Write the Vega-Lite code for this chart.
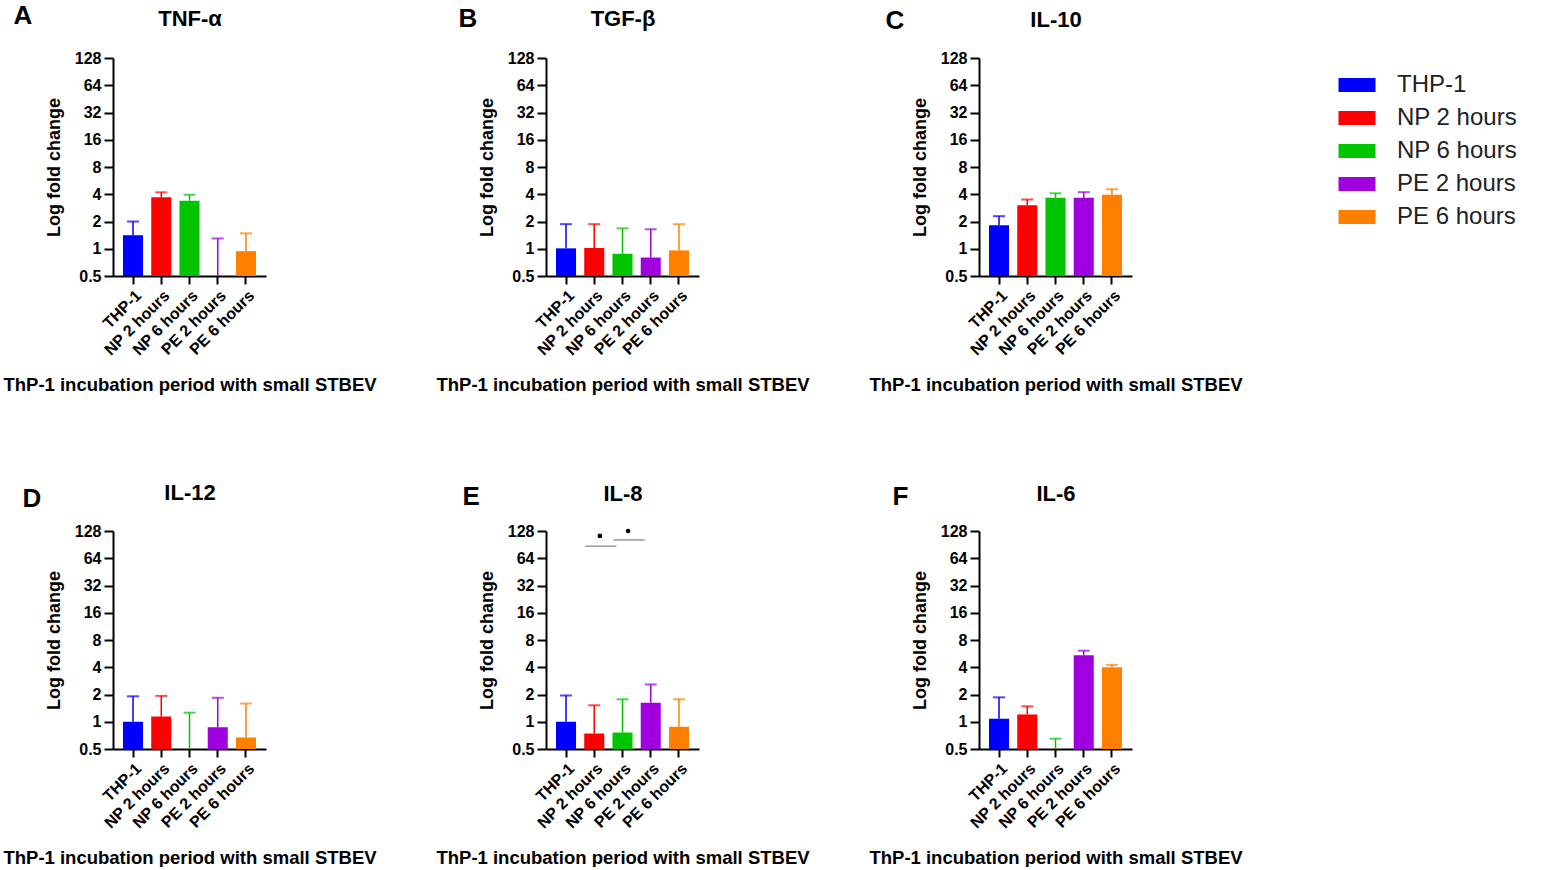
{
  "$schema": "https://vega.github.io/schema/vega-lite/v6.json",
  "padding": {"left": 2, "top": 2, "right": 0, "bottom": 0},
  "background": "white",
  "config": {
    "font": "Liberation Sans",
    "view": {"stroke": null},
    "axis": {"grid": false}
  },
  "datasets": {
    "cyt": [
      {"panel": "A", "group": "THP-1", "value": 1.41, "err": 2.0},
      {"panel": "A", "group": "NP 2 hours", "value": 3.7, "err": 4.2},
      {"panel": "A", "group": "NP 6 hours", "value": 3.4, "err": 3.95},
      {"panel": "A", "group": "PE 2 hours", "value": 0.45, "err": 1.3},
      {"panel": "A", "group": "PE 6 hours", "value": 0.94, "err": 1.48},
      {"panel": "B", "group": "THP-1", "value": 1.01, "err": 1.87},
      {"panel": "B", "group": "NP 2 hours", "value": 1.02, "err": 1.87},
      {"panel": "B", "group": "NP 6 hours", "value": 0.88, "err": 1.68},
      {"panel": "B", "group": "PE 2 hours", "value": 0.8, "err": 1.64},
      {"panel": "B", "group": "PE 6 hours", "value": 0.96, "err": 1.87},
      {"panel": "C", "group": "THP-1", "value": 1.82, "err": 2.29},
      {"panel": "C", "group": "NP 2 hours", "value": 3.03, "err": 3.5},
      {"panel": "C", "group": "NP 6 hours", "value": 3.65, "err": 4.1},
      {"panel": "C", "group": "PE 2 hours", "value": 3.65, "err": 4.22},
      {"panel": "C", "group": "PE 6 hours", "value": 3.94, "err": 4.55},
      {"panel": "D", "group": "THP-1", "value": 1.0, "err": 1.91},
      {"panel": "D", "group": "NP 2 hours", "value": 1.14, "err": 1.93},
      {"panel": "D", "group": "NP 6 hours", "value": 0.45, "err": 1.26},
      {"panel": "D", "group": "PE 2 hours", "value": 0.87, "err": 1.84},
      {"panel": "D", "group": "PE 6 hours", "value": 0.67, "err": 1.59},
      {"panel": "E", "group": "THP-1", "value": 1.0, "err": 1.95},
      {"panel": "E", "group": "NP 2 hours", "value": 0.74, "err": 1.52},
      {"panel": "E", "group": "NP 6 hours", "value": 0.76, "err": 1.77},
      {"panel": "E", "group": "PE 2 hours", "value": 1.62, "err": 2.58},
      {"panel": "E", "group": "PE 6 hours", "value": 0.88, "err": 1.77},
      {"panel": "F", "group": "THP-1", "value": 1.08, "err": 1.86},
      {"panel": "F", "group": "NP 2 hours", "value": 1.2, "err": 1.48},
      {"panel": "F", "group": "NP 6 hours", "value": 0.45, "err": 0.65},
      {"panel": "F", "group": "PE 2 hours", "value": 5.43, "err": 6.1},
      {"panel": "F", "group": "PE 6 hours", "value": 4.01, "err": 4.25}
    ],
    "sig": [
      {"from": "NP 2 hours", "to": "NP 6 hours", "y": 87},
      {"from": "NP 6 hours", "to": "PE 2 hours", "y": 102}
    ],
    "dots": [
      {"group": "NP 2 hours", "y": 113},
      {"group": "NP 6 hours", "y": 128}
    ]
  },
  "columns": 3,
  "bounds": "flush",
  "spacing": {"row": 255, "column": 280},
  "concat": [
    {
      "width": 153, "height": 218,
      "data": {"name": "cyt"},
      "transform": [{"filter": "datum.panel === 'A'"}],
      "resolve": {"axis": {"x": "independent", "y": "independent"}},
      "layer": [
        {
          "mark": {"type": "bar"},
          "encoding": {
            "x": {"field": "group", "type": "nominal", "sort": null,
              "scale": {"domain": ["THP-1", "NP 2 hours", "NP 6 hours", "PE 2 hours", "PE 6 hours"], "paddingInner": 0.29, "paddingOuter": 0.354},
              "axis": {"orient": "bottom", "title": "ThP-1 incubation period with small STBEV", "titleFontSize": 18.5, "titleFontWeight": "bold", "titleColor": "black", "titleBaseline": "alphabetic", "titleY": 114, "labelAngle": -45, "labelFontSize": 16, "labelFontWeight": "bold", "labelColor": "black", "labelPadding": 3, "domainColor": "black", "domainWidth": 2, "tickColor": "black", "tickWidth": 2, "tickSize": 8}},
            "y": {"field": "value", "type": "quantitative",
              "scale": {"type": "log", "domain": [0.5, 128], "nice": false, "clamp": true},
              "axis": {"orient": "left", "title": "Log fold change", "values": [0.5, 1, 2, 4, 8, 16, 32, 64, 128], "format": "~g", "titleFontSize": 18, "titleFontWeight": "bold", "titleColor": "black", "titlePadding": 11, "labelFontSize": 16, "labelFontWeight": "bold", "labelColor": "black", "labelPadding": 3, "domainColor": "black", "domainWidth": 2, "tickColor": "black", "tickWidth": 2, "tickSize": 9}},
            "y2": {"datum": 0.5},
            "color": {"field": "group", "type": "nominal",
              "scale": {"domain": ["THP-1", "NP 2 hours", "NP 6 hours", "PE 2 hours", "PE 6 hours"], "range": ["#0000ff", "#ff0000", "#00c400", "#a000e0", "#ff8000"]},
              "legend": {"orient": "none", "legendX": 1232, "legendY": 15, "title": null, "symbolType": "M-2,-0.76H2V0.76H-2Z", "symbolSize": 342, "symbolStrokeWidth": 0, "labelFontSize": 24, "labelColor": "#222222", "labelOffset": 28, "rowPadding": 9}}
          }
        },
        {
          "mark": {"type": "rule", "strokeWidth": 1.5},
          "encoding": {
            "x": {"field": "group", "type": "nominal", "axis": {"orient": "top", "title": "TNF-α", "domain": false, "ticks": false, "labels": false, "titleFontSize": 22, "titleFontWeight": "bold", "titleColor": "black", "titleBaseline": "alphabetic", "titleY": -33}},
            "y": {"field": "value", "type": "quantitative", "axis": {"orient": "right", "title": "A", "domain": false, "ticks": false, "labels": false, "titleAngle": 0, "titleAlign": "left", "titleBaseline": "alphabetic", "titleX": -253, "titleY": -35, "titleFontSize": 26, "titleFontWeight": "bold", "titleColor": "black"}},
            "y2": {"field": "err"},
            "color": {"field": "group", "type": "nominal", "legend": null}
          }
        },
        {
          "mark": {"type": "tick", "size": 12, "thickness": 2},
          "encoding": {
            "x": {"field": "group", "type": "nominal", "axis": null},
            "y": {"field": "err", "type": "quantitative", "axis": null},
            "color": {"field": "group", "type": "nominal", "legend": null}
          }
        }
      ]
    },
    {
      "width": 153, "height": 218,
      "data": {"name": "cyt"},
      "transform": [{"filter": "datum.panel === 'B'"}],
      "resolve": {"axis": {"x": "independent", "y": "independent"}},
      "layer": [
        {
          "mark": {"type": "bar"},
          "encoding": {
            "x": {"field": "group", "type": "nominal", "sort": null,
              "scale": {"domain": ["THP-1", "NP 2 hours", "NP 6 hours", "PE 2 hours", "PE 6 hours"], "paddingInner": 0.29, "paddingOuter": 0.354},
              "axis": {"orient": "bottom", "title": "ThP-1 incubation period with small STBEV", "titleFontSize": 18.5, "titleFontWeight": "bold", "titleColor": "black", "titleBaseline": "alphabetic", "titleY": 114, "labelAngle": -45, "labelFontSize": 16, "labelFontWeight": "bold", "labelColor": "black", "labelPadding": 3, "domainColor": "black", "domainWidth": 2, "tickColor": "black", "tickWidth": 2, "tickSize": 8}},
            "y": {"field": "value", "type": "quantitative",
              "scale": {"type": "log", "domain": [0.5, 128], "nice": false, "clamp": true},
              "axis": {"orient": "left", "title": "Log fold change", "values": [0.5, 1, 2, 4, 8, 16, 32, 64, 128], "format": "~g", "titleFontSize": 18, "titleFontWeight": "bold", "titleColor": "black", "titlePadding": 11, "labelFontSize": 16, "labelFontWeight": "bold", "labelColor": "black", "labelPadding": 3, "domainColor": "black", "domainWidth": 2, "tickColor": "black", "tickWidth": 2, "tickSize": 9}},
            "y2": {"datum": 0.5},
            "color": {"field": "group", "type": "nominal"}
          }
        },
        {
          "mark": {"type": "rule", "strokeWidth": 1.5},
          "encoding": {
            "x": {"field": "group", "type": "nominal", "axis": {"orient": "top", "title": "TGF-β", "domain": false, "ticks": false, "labels": false, "titleFontSize": 22, "titleFontWeight": "bold", "titleColor": "black", "titleBaseline": "alphabetic", "titleY": -33}},
            "y": {"field": "value", "type": "quantitative", "axis": {"orient": "right", "title": "B", "domain": false, "ticks": false, "labels": false, "titleAngle": 0, "titleAlign": "left", "titleBaseline": "alphabetic", "titleX": -241, "titleY": -32, "titleFontSize": 26, "titleFontWeight": "bold", "titleColor": "black"}},
            "y2": {"field": "err"},
            "color": {"field": "group", "type": "nominal", "legend": null}
          }
        },
        {
          "mark": {"type": "tick", "size": 12, "thickness": 2},
          "encoding": {
            "x": {"field": "group", "type": "nominal", "axis": null},
            "y": {"field": "err", "type": "quantitative", "axis": null},
            "color": {"field": "group", "type": "nominal", "legend": null}
          }
        }
      ]
    },
    {
      "width": 153, "height": 218,
      "data": {"name": "cyt"},
      "transform": [{"filter": "datum.panel === 'C'"}],
      "resolve": {"axis": {"x": "independent", "y": "independent"}},
      "layer": [
        {
          "mark": {"type": "bar"},
          "encoding": {
            "x": {"field": "group", "type": "nominal", "sort": null,
              "scale": {"domain": ["THP-1", "NP 2 hours", "NP 6 hours", "PE 2 hours", "PE 6 hours"], "paddingInner": 0.29, "paddingOuter": 0.354},
              "axis": {"orient": "bottom", "title": "ThP-1 incubation period with small STBEV", "titleFontSize": 18.5, "titleFontWeight": "bold", "titleColor": "black", "titleBaseline": "alphabetic", "titleY": 114, "labelAngle": -45, "labelFontSize": 16, "labelFontWeight": "bold", "labelColor": "black", "labelPadding": 3, "domainColor": "black", "domainWidth": 2, "tickColor": "black", "tickWidth": 2, "tickSize": 8}},
            "y": {"field": "value", "type": "quantitative",
              "scale": {"type": "log", "domain": [0.5, 128], "nice": false, "clamp": true},
              "axis": {"orient": "left", "title": "Log fold change", "values": [0.5, 1, 2, 4, 8, 16, 32, 64, 128], "format": "~g", "titleFontSize": 18, "titleFontWeight": "bold", "titleColor": "black", "titlePadding": 11, "labelFontSize": 16, "labelFontWeight": "bold", "labelColor": "black", "labelPadding": 3, "domainColor": "black", "domainWidth": 2, "tickColor": "black", "tickWidth": 2, "tickSize": 9}},
            "y2": {"datum": 0.5},
            "color": {"field": "group", "type": "nominal"}
          }
        },
        {
          "mark": {"type": "rule", "strokeWidth": 1.5},
          "encoding": {
            "x": {"field": "group", "type": "nominal", "axis": {"orient": "top", "title": "IL-10", "domain": false, "ticks": false, "labels": false, "titleFontSize": 22, "titleFontWeight": "bold", "titleColor": "black", "titleBaseline": "alphabetic", "titleY": -32}},
            "y": {"field": "value", "type": "quantitative", "axis": {"orient": "right", "title": "C", "domain": false, "ticks": false, "labels": false, "titleAngle": 0, "titleAlign": "left", "titleBaseline": "alphabetic", "titleX": -247, "titleY": -30, "titleFontSize": 26, "titleFontWeight": "bold", "titleColor": "black"}},
            "y2": {"field": "err"},
            "color": {"field": "group", "type": "nominal", "legend": null}
          }
        },
        {
          "mark": {"type": "tick", "size": 12, "thickness": 2},
          "encoding": {
            "x": {"field": "group", "type": "nominal", "axis": null},
            "y": {"field": "err", "type": "quantitative", "axis": null},
            "color": {"field": "group", "type": "nominal", "legend": null}
          }
        }
      ]
    },
    {
      "width": 153, "height": 218,
      "data": {"name": "cyt"},
      "transform": [{"filter": "datum.panel === 'D'"}],
      "resolve": {"axis": {"x": "independent", "y": "independent"}},
      "layer": [
        {
          "mark": {"type": "bar"},
          "encoding": {
            "x": {"field": "group", "type": "nominal", "sort": null,
              "scale": {"domain": ["THP-1", "NP 2 hours", "NP 6 hours", "PE 2 hours", "PE 6 hours"], "paddingInner": 0.29, "paddingOuter": 0.354},
              "axis": {"orient": "bottom", "title": "ThP-1 incubation period with small STBEV", "titleFontSize": 18.5, "titleFontWeight": "bold", "titleColor": "black", "titleBaseline": "alphabetic", "titleY": 114, "labelAngle": -45, "labelFontSize": 16, "labelFontWeight": "bold", "labelColor": "black", "labelPadding": 3, "domainColor": "black", "domainWidth": 2, "tickColor": "black", "tickWidth": 2, "tickSize": 8}},
            "y": {"field": "value", "type": "quantitative",
              "scale": {"type": "log", "domain": [0.5, 128], "nice": false, "clamp": true},
              "axis": {"orient": "left", "title": "Log fold change", "values": [0.5, 1, 2, 4, 8, 16, 32, 64, 128], "format": "~g", "titleFontSize": 18, "titleFontWeight": "bold", "titleColor": "black", "titlePadding": 11, "labelFontSize": 16, "labelFontWeight": "bold", "labelColor": "black", "labelPadding": 3, "domainColor": "black", "domainWidth": 2, "tickColor": "black", "tickWidth": 2, "tickSize": 9}},
            "y2": {"datum": 0.5},
            "color": {"field": "group", "type": "nominal"}
          }
        },
        {
          "mark": {"type": "rule", "strokeWidth": 1.5},
          "encoding": {
            "x": {"field": "group", "type": "nominal", "axis": {"orient": "top", "title": "IL-12", "domain": false, "ticks": false, "labels": false, "titleFontSize": 22, "titleFontWeight": "bold", "titleColor": "black", "titleBaseline": "alphabetic", "titleY": -32}},
            "y": {"field": "value", "type": "quantitative", "axis": {"orient": "right", "title": "D", "domain": false, "ticks": false, "labels": false, "titleAngle": 0, "titleAlign": "left", "titleBaseline": "alphabetic", "titleX": -244, "titleY": -25, "titleFontSize": 26, "titleFontWeight": "bold", "titleColor": "black"}},
            "y2": {"field": "err"},
            "color": {"field": "group", "type": "nominal", "legend": null}
          }
        },
        {
          "mark": {"type": "tick", "size": 12, "thickness": 2},
          "encoding": {
            "x": {"field": "group", "type": "nominal", "axis": null},
            "y": {"field": "err", "type": "quantitative", "axis": null},
            "color": {"field": "group", "type": "nominal", "legend": null}
          }
        }
      ]
    },
    {
      "width": 153, "height": 218,
      "resolve": {"axis": {"x": "independent", "y": "independent"}},
      "layer": [
        {
          "data": {"name": "cyt"},
          "transform": [{"filter": "datum.panel === 'E'"}],
          "mark": {"type": "bar"},
          "encoding": {
            "x": {"field": "group", "type": "nominal", "sort": null,
              "scale": {"domain": ["THP-1", "NP 2 hours", "NP 6 hours", "PE 2 hours", "PE 6 hours"], "paddingInner": 0.29, "paddingOuter": 0.354},
              "axis": {"orient": "bottom", "title": "ThP-1 incubation period with small STBEV", "titleFontSize": 18.5, "titleFontWeight": "bold", "titleColor": "black", "titleBaseline": "alphabetic", "titleY": 114, "labelAngle": -45, "labelFontSize": 16, "labelFontWeight": "bold", "labelColor": "black", "labelPadding": 3, "domainColor": "black", "domainWidth": 2, "tickColor": "black", "tickWidth": 2, "tickSize": 8}},
            "y": {"field": "value", "type": "quantitative",
              "scale": {"type": "log", "domain": [0.5, 128], "nice": false, "clamp": true},
              "axis": {"orient": "left", "title": "Log fold change", "values": [0.5, 1, 2, 4, 8, 16, 32, 64, 128], "format": "~g", "titleFontSize": 18, "titleFontWeight": "bold", "titleColor": "black", "titlePadding": 11, "labelFontSize": 16, "labelFontWeight": "bold", "labelColor": "black", "labelPadding": 3, "domainColor": "black", "domainWidth": 2, "tickColor": "black", "tickWidth": 2, "tickSize": 9}},
            "y2": {"datum": 0.5},
            "color": {"field": "group", "type": "nominal"}
          }
        },
        {
          "data": {"name": "cyt"},
          "transform": [{"filter": "datum.panel === 'E'"}],
          "mark": {"type": "rule", "strokeWidth": 1.5},
          "encoding": {
            "x": {"field": "group", "type": "nominal", "axis": {"orient": "top", "title": "IL-8", "domain": false, "ticks": false, "labels": false, "titleFontSize": 22, "titleFontWeight": "bold", "titleColor": "black", "titleBaseline": "alphabetic", "titleY": -31}},
            "y": {"field": "value", "type": "quantitative", "axis": {"orient": "right", "title": "E", "domain": false, "ticks": false, "labels": false, "titleAngle": 0, "titleAlign": "left", "titleBaseline": "alphabetic", "titleX": -237, "titleY": -27, "titleFontSize": 26, "titleFontWeight": "bold", "titleColor": "black"}},
            "y2": {"field": "err"},
            "color": {"field": "group", "type": "nominal", "legend": null}
          }
        },
        {
          "data": {"name": "cyt"},
          "transform": [{"filter": "datum.panel === 'E'"}],
          "mark": {"type": "tick", "size": 12, "thickness": 2},
          "encoding": {
            "x": {"field": "group", "type": "nominal", "axis": null},
            "y": {"field": "err", "type": "quantitative", "axis": null},
            "color": {"field": "group", "type": "nominal", "legend": null}
          }
        },
        {
          "data": {"name": "sig"},
          "mark": {"type": "rule", "strokeWidth": 1.5, "color": "#999999"},
          "encoding": {
            "x": {"field": "from", "type": "nominal", "bandPosition": 0.05, "axis": null},
            "x2": {"field": "to", "bandPosition": 0.2},
            "y": {"field": "y", "type": "quantitative", "axis": null}
          }
        },
        {
          "data": {"name": "dots"},
          "mark": {"type": "point", "filled": true, "size": 22, "color": "black", "opacity": 1},
          "encoding": {
            "x": {"field": "group", "type": "nominal", "bandPosition": 0.78, "axis": null},
            "y": {"field": "y", "type": "quantitative", "axis": null}
          }
        }
      ]
    },
    {
      "width": 153, "height": 218,
      "data": {"name": "cyt"},
      "transform": [{"filter": "datum.panel === 'F'"}],
      "resolve": {"axis": {"x": "independent", "y": "independent"}},
      "layer": [
        {
          "mark": {"type": "bar"},
          "encoding": {
            "x": {"field": "group", "type": "nominal", "sort": null,
              "scale": {"domain": ["THP-1", "NP 2 hours", "NP 6 hours", "PE 2 hours", "PE 6 hours"], "paddingInner": 0.29, "paddingOuter": 0.354},
              "axis": {"orient": "bottom", "title": "ThP-1 incubation period with small STBEV", "titleFontSize": 18.5, "titleFontWeight": "bold", "titleColor": "black", "titleBaseline": "alphabetic", "titleY": 114, "labelAngle": -45, "labelFontSize": 16, "labelFontWeight": "bold", "labelColor": "black", "labelPadding": 3, "domainColor": "black", "domainWidth": 2, "tickColor": "black", "tickWidth": 2, "tickSize": 8}},
            "y": {"field": "value", "type": "quantitative",
              "scale": {"type": "log", "domain": [0.5, 128], "nice": false, "clamp": true},
              "axis": {"orient": "left", "title": "Log fold change", "values": [0.5, 1, 2, 4, 8, 16, 32, 64, 128], "format": "~g", "titleFontSize": 18, "titleFontWeight": "bold", "titleColor": "black", "titlePadding": 11, "labelFontSize": 16, "labelFontWeight": "bold", "labelColor": "black", "labelPadding": 3, "domainColor": "black", "domainWidth": 2, "tickColor": "black", "tickWidth": 2, "tickSize": 9}},
            "y2": {"datum": 0.5},
            "color": {"field": "group", "type": "nominal"}
          }
        },
        {
          "mark": {"type": "rule", "strokeWidth": 1.5},
          "encoding": {
            "x": {"field": "group", "type": "nominal", "axis": {"orient": "top", "title": "IL-6", "domain": false, "ticks": false, "labels": false, "titleFontSize": 22, "titleFontWeight": "bold", "titleColor": "black", "titleBaseline": "alphabetic", "titleY": -31}},
            "y": {"field": "value", "type": "quantitative", "axis": {"orient": "right", "title": "F", "domain": false, "ticks": false, "labels": false, "titleAngle": 0, "titleAlign": "left", "titleBaseline": "alphabetic", "titleX": -240, "titleY": -27, "titleFontSize": 26, "titleFontWeight": "bold", "titleColor": "black"}},
            "y2": {"field": "err"},
            "color": {"field": "group", "type": "nominal", "legend": null}
          }
        },
        {
          "mark": {"type": "tick", "size": 12, "thickness": 2},
          "encoding": {
            "x": {"field": "group", "type": "nominal", "axis": null},
            "y": {"field": "err", "type": "quantitative", "axis": null},
            "color": {"field": "group", "type": "nominal", "legend": null}
          }
        }
      ]
    }
  ]
}
